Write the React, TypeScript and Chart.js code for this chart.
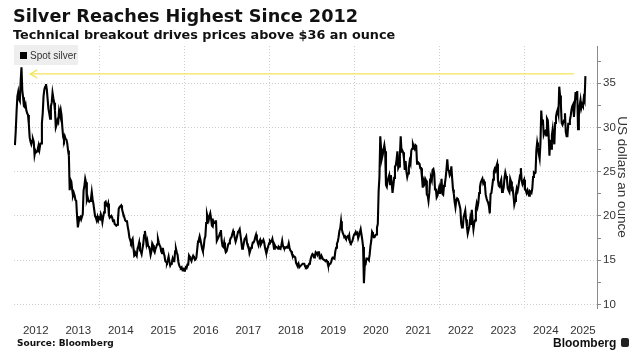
import React, { useEffect, useRef } from 'react';
import { Chart, registerables } from 'chart.js';

Chart.register(...registerables);

// ---- text ----
const TITLE = 'Silver Reaches Highest Since 2012';
const SUBTITLE = 'Technical breakout drives prices above $36 an ounce';
const SERIES_NAME = 'Spot silver';
const Y_TITLE = 'US dollars an ounce';
const SOURCE = 'Source: Bloomberg';
const BRAND = 'Bloomberg';

// ---- axes ----
const YEAR_LABELS = [2012, 2013, 2014, 2015, 2016, 2017, 2018, 2019, 2020, 2021, 2022, 2023, 2024, 2025];
const GRID_YEARS = [2014, 2016, 2018, 2020, 2022, 2024];
const Y_TICKS = [10, 12.5, 15, 17.5, 20, 22.5, 25, 27.5, 30, 32.5, 35, 37.5];
const X_MIN = 2011.988;
const X_MAX = 2025.706;
const Y_MIN = 9.6;
const Y_MAX = 39.2;

// ---- annotation (yellow arrow at the new high) ----
const ARROW_LEVEL = 36.05;
const ARROW_FROM = 2012.37;
const ARROW_TO = 2025.165;

// ---- spot silver, weekly closes (USD/oz) ----
const s2012 = [28.0, 29.6, 31.8, 33.5, 34.0, 33.2, 33.0, 35.2, 36.8, 34.2, 33.4, 32.4, 32.3, 32.6, 31.9, 31.6, 31.4, 30.4, 28.9, 28.4, 28.1, 28.5, 28.7, 28.4, 26.9, 27.4, 27.2, 27.3, 27.6, 28.0, 27.5, 28.1, 28.2, 30.5, 31.6, 33.5, 34.3, 34.6, 34.9, 34.3, 33.2, 32.1, 31.6, 31.0, 32.4, 32.8, 33.9, 33.3, 32.8, 31.9, 30.0, 30.3];
const s2013 = [30.8, 30.6, 31.9, 31.5, 32.0, 31.4, 30.0, 28.9, 28.6, 29.0, 28.7, 28.6, 28.2, 27.4, 26.8, 22.9, 24.1, 23.9, 23.0, 22.3, 22.6, 22.3, 21.8, 21.7, 20.0, 18.7, 19.3, 19.8, 19.9, 19.6, 19.6, 20.2, 22.9, 23.4, 24.2, 23.8, 21.8, 22.1, 21.7, 21.6, 21.7, 21.9, 22.7, 21.9, 21.4, 20.7, 20.0, 19.8, 19.5, 19.9, 19.5, 19.8];
const s2014 = [19.7, 20.2, 19.9, 19.3, 19.9, 20.4, 21.5, 21.6, 21.2, 21.1, 21.4, 20.1, 19.8, 19.9, 20.0, 19.8, 19.4, 19.6, 19.1, 19.0, 18.9, 19.0, 19.5, 20.8, 21.0, 21.1, 21.2, 20.8, 20.4, 20.1, 19.8, 19.5, 19.4, 19.5, 18.8, 18.3, 17.6, 17.3, 17.0, 17.2, 17.4, 16.4, 15.5, 15.6, 15.7, 15.5, 16.3, 16.6, 17.0, 16.1, 16.0, 15.7];
const s2015 = [16.3, 16.8, 17.8, 18.3, 17.6, 16.8, 17.2, 16.6, 16.5, 16.2, 15.6, 16.0, 16.9, 16.7, 16.1, 15.9, 16.3, 16.5, 16.8, 17.4, 17.0, 16.7, 16.5, 16.0, 15.8, 16.4, 15.8, 15.5, 14.9, 14.8, 14.7, 15.0, 15.4, 14.8, 14.4, 14.6, 14.8, 15.2, 14.9, 14.9, 16.0, 16.3, 15.9, 15.6, 14.8, 14.4, 14.2, 14.1, 14.2, 13.9, 14.0, 13.8];
const s2016 = [14.0, 14.2, 14.1, 14.5, 14.5, 15.5, 15.3, 15.1, 14.9, 15.3, 15.5, 15.3, 15.2, 15.1, 15.3, 16.2, 17.1, 17.3, 17.7, 17.3, 16.8, 16.3, 16.0, 16.5, 17.4, 17.7, 19.2, 20.2, 19.8, 19.5, 20.0, 20.3, 19.7, 18.9, 18.8, 19.4, 19.2, 19.2, 19.5, 17.2, 17.4, 17.6, 17.8, 18.1, 18.4, 17.2, 16.6, 16.5, 17.0, 16.3, 15.9, 16.0];
const s2017 = [16.4, 16.8, 16.9, 17.2, 17.5, 17.6, 18.0, 18.3, 18.0, 17.5, 17.1, 17.4, 17.8, 18.2, 18.3, 18.5, 17.8, 17.1, 16.3, 16.4, 16.9, 17.4, 17.5, 17.7, 16.9, 16.6, 16.5, 15.8, 16.1, 16.4, 16.6, 17.0, 17.0, 17.2, 17.6, 17.9, 17.4, 17.0, 16.7, 17.1, 17.3, 16.8, 17.0, 17.1, 17.3, 17.0, 16.4, 16.0, 15.9, 16.3, 16.6, 16.9];
const s2018 = [17.2, 17.1, 17.1, 17.4, 16.9, 16.3, 16.7, 16.5, 16.5, 16.4, 16.3, 16.5, 16.4, 16.3, 16.7, 17.2, 16.6, 16.4, 16.3, 16.4, 16.5, 16.4, 16.5, 16.9, 16.4, 16.1, 16.0, 15.7, 15.6, 15.4, 15.4, 15.3, 14.7, 14.5, 14.4, 14.6, 14.2, 14.3, 14.3, 14.5, 14.6, 14.6, 14.6, 14.3, 14.2, 14.3, 14.2, 14.4, 14.6, 14.7, 15.2, 15.5];
const s2019 = [15.7, 15.6, 15.3, 15.5, 15.9, 15.8, 15.6, 15.9, 16.0, 15.2, 15.2, 15.5, 15.3, 15.1, 15.1, 15.0, 14.9, 15.0, 14.9, 14.5, 14.4, 14.6, 14.6, 14.8, 15.2, 15.3, 15.3, 15.2, 16.0, 16.4, 16.9, 17.1, 17.6, 18.3, 18.6, 19.4, 18.5, 18.1, 17.9, 17.6, 17.7, 17.5, 17.6, 17.7, 17.5, 17.8, 17.0, 16.9, 17.0, 17.2, 17.6, 17.9];
const s2020 = [18.0, 18.2, 18.0, 18.1, 17.5, 17.8, 17.8, 18.5, 17.9, 17.3, 16.5, 12.4, 14.4, 14.5, 15.2, 15.2, 15.1, 15.0, 15.6, 16.6, 17.2, 18.2, 18.0, 17.6, 17.6, 17.8, 17.9, 18.7, 19.1, 22.8, 24.4, 29.0, 27.6, 26.5, 26.9, 27.5, 28.0, 27.3, 23.5, 23.3, 24.0, 24.3, 24.6, 23.6, 24.6, 23.7, 22.6, 23.4, 24.3, 25.6, 25.7, 26.4];
const s2021 = [27.3, 25.4, 25.6, 26.8, 29.0, 27.3, 27.4, 27.2, 26.5, 25.2, 26.2, 25.0, 24.4, 24.8, 25.5, 26.2, 25.9, 27.4, 27.6, 28.1, 27.8, 27.6, 28.0, 27.9, 25.9, 26.1, 26.0, 25.9, 25.4, 25.4, 24.4, 23.2, 24.0, 23.7, 24.2, 24.0, 22.4, 22.3, 21.7, 22.6, 24.1, 24.3, 24.0, 25.2, 25.3, 24.8, 23.0, 23.1, 22.1, 22.3, 22.8, 23.2];
const s2022 = [22.5, 23.1, 24.2, 22.5, 22.4, 23.4, 23.6, 24.3, 25.2, 26.4, 25.2, 25.1, 24.6, 24.8, 25.6, 24.2, 23.0, 22.5, 21.6, 21.0, 21.8, 22.0, 21.9, 21.6, 21.2, 20.8, 19.2, 18.7, 18.7, 19.9, 20.2, 20.6, 19.6, 18.8, 18.0, 18.4, 18.8, 19.6, 19.0, 20.7, 19.4, 18.5, 19.2, 19.5, 20.8, 21.4, 21.0, 21.5, 22.6, 23.3, 23.8, 24.0];
const s2023 = [24.2, 23.7, 23.9, 23.6, 22.4, 22.0, 21.7, 21.5, 21.1, 20.3, 22.5, 22.6, 23.3, 24.1, 25.0, 25.3, 25.1, 25.6, 25.9, 24.0, 23.4, 23.3, 23.8, 24.1, 22.7, 22.8, 23.2, 24.3, 24.9, 24.5, 24.1, 23.1, 22.9, 22.7, 24.2, 23.9, 23.0, 23.1, 22.3, 21.3, 21.7, 22.5, 23.1, 22.8, 23.3, 24.0, 24.6, 25.4, 24.0, 23.6, 23.9, 24.1];
const s2024 = [23.0, 22.9, 22.6, 22.9, 22.6, 22.3, 22.8, 22.7, 22.6, 23.1, 24.4, 24.9, 24.8, 24.9, 27.4, 28.3, 27.7, 27.0, 26.5, 28.2, 31.9, 30.4, 30.9, 29.2, 29.5, 29.6, 29.1, 31.0, 30.8, 29.2, 26.8, 28.6, 27.6, 29.1, 29.8, 28.8, 28.1, 30.5, 31.2, 31.7, 32.0, 31.5, 34.6, 33.6, 32.6, 30.5, 30.3, 30.6, 30.8, 31.6, 29.5, 29.0];
const s2025 = [29.0, 30.4, 30.4, 30.8, 31.3, 32.0, 32.4, 32.6, 31.2, 32.6, 34.0, 33.1, 34.1, 29.8, 31.3, 32.5, 33.1, 32.2, 32.6, 32.4, 33.3, 33.0, 35.8];

const SERIES_BY_YEAR: [number, number[]][] = [
  [2012, s2012], [2013, s2013], [2014, s2014], [2015, s2015], [2016, s2016],
  [2017, s2017], [2018, s2018], [2019, s2019], [2020, s2020], [2021, s2021],
  [2022, s2022], [2023, s2023], [2024, s2024], [2025, s2025],
];

// ---- styles ----
const LINE_COLOR = '#000000';
const ARROW_COLOR = '#f3e55a';
const GRID_COLOR = '#cfcfcf';
const AXIS_COLOR = '#8a8a8a';
const TEXT_COLOR = '#333333';
const TICK_FONT = { family: '"Liberation Sans", Arial, sans-serif', size: 11.5 };

const arrowHeadPlugin = {
  id: 'arrowHead',
  afterDatasetsDraw(chart: any) {
    const { ctx, scales } = chart;
    const px = scales.x.getPixelForValue(ARROW_FROM);
    const py = scales.y.getPixelForValue(ARROW_LEVEL);
    ctx.save();
    ctx.strokeStyle = ARROW_COLOR;
    ctx.lineWidth = 1.2;
    ctx.beginPath();
    ctx.moveTo(px + 7, py - 4);
    ctx.lineTo(px, py);
    ctx.lineTo(px + 7, py + 4);
    ctx.stroke();
    ctx.restore();
  },
};

export default function App() {
  const ref = useRef<HTMLCanvasElement>(null);

  useEffect(() => {
    const points = SERIES_BY_YEAR.flatMap(([yr, vals]) =>
      vals.map((v, i) => ({ x: yr + i / 52 + 0.01, y: v }))
    );
    const arrowPts = [
      { x: ARROW_FROM, y: ARROW_LEVEL },
      { x: ARROW_TO, y: ARROW_LEVEL },
    ];
    const chart = new Chart(ref.current as HTMLCanvasElement, {
      type: 'line',
      data: {
        datasets: [
          {
            label: SERIES_NAME,
            data: points,
            borderColor: LINE_COLOR,
            borderWidth: 2.1,
            pointRadius: 0,
            tension: 0,
          },
          {
            label: 'arrow',
            data: arrowPts,
            borderColor: ARROW_COLOR,
            borderWidth: 1.2,
            pointRadius: 0,
          },
        ],
      },
      options: {
        animation: false,
        responsive: false,
        maintainAspectRatio: false,
        layout: { padding: { left: 14, top: 46, right: 0, bottom: 0 } },
        plugins: { legend: { display: false }, tooltip: { enabled: false } },
        scales: {
          x: {
            type: 'linear',
            position: 'bottom',
            min: X_MIN,
            max: X_MAX,
            grid: { display: false, drawTicks: false },
            border: { display: false },
            ticks: {
              autoSkip: false,
              maxRotation: 0,
              padding: 16,
              color: TEXT_COLOR,
              font: TICK_FONT,
              callback: (v: any) => String(Math.floor(Number(v))),
            },
            afterBuildTicks: (s: any) => {
              s.ticks = YEAR_LABELS.map((y) => ({ value: Math.min(y + 0.5, X_MAX - 0.33) }));
            },
            afterFit: (s: any) => {
              s.height = 54;
            },
          },
          xg: {
            type: 'linear',
            position: 'bottom',
            min: X_MIN,
            max: X_MAX,
            grid: { color: GRID_COLOR, lineWidth: 1, drawTicks: false },
            border: { display: false, dash: [1, 2] },
            ticks: { display: false },
            afterBuildTicks: (s: any) => {
              s.ticks = GRID_YEARS.map((y) => ({ value: y }));
            },
            afterFit: (s: any) => {
              s.height = 0;
            },
          },
          y: {
            type: 'linear',
            position: 'right',
            min: Y_MIN,
            max: Y_MAX,
            grid: {
              color: (c: any) => (c.tick && c.tick.value % 5 === 0 ? GRID_COLOR : 'rgba(0,0,0,0)'),
              lineWidth: 1,
              drawTicks: true,
              tickLength: 4,
              tickColor: AXIS_COLOR,
              tickBorderDash: [],
            },
            border: { display: true, color: AXIS_COLOR, width: 1, dash: [1, 2] },
            ticks: {
              padding: 2,
              color: TEXT_COLOR,
              font: TICK_FONT,
              autoSkip: false,
              callback: (v: any) => (Number(v) % 5 === 0 ? String(v) : ''),
            },
            title: {
              display: true,
              text: Y_TITLE,
              color: TEXT_COLOR,
              font: { family: '"Liberation Sans", Arial, sans-serif', size: 13.5 },
              padding: { top: 12, bottom: 0 },
            },
            afterBuildTicks: (s: any) => {
              s.ticks = Y_TICKS.map((v) => ({ value: v }));
            },
            afterFit: (s: any) => {
              s.width = 45;
            },
          },
        },
      } as any,
      plugins: [arrowHeadPlugin],
    });
    return () => chart.destroy();
  }, []);

  return (
    <div style={{ position: 'absolute', left: 0, top: 0, width: 642, height: 362, background: '#fff', overflow: 'hidden' }}>
      <canvas ref={ref} width={642} height={362} style={{ position: 'absolute', left: 0, top: 0, width: 642, height: 362 }} />
      <div style={{ position: 'absolute', left: 13, top: 7.7, font: 'bold 17.7px "DejaVu Sans", sans-serif', lineHeight: 1, color: '#111', whiteSpace: 'nowrap' }}>{TITLE}</div>
      <div style={{ position: 'absolute', left: 13, top: 28.7, font: 'bold 12.8px "DejaVu Sans", sans-serif', lineHeight: 1, color: '#111', whiteSpace: 'nowrap' }}>{SUBTITLE}</div>
      <div style={{ position: 'absolute', left: 14, top: 45, width: 64, height: 20, background: '#eeeeee', display: 'flex', alignItems: 'center', boxSizing: 'border-box', paddingLeft: 6 }}>
        <span style={{ display: 'inline-block', width: 7, height: 7, background: '#000', marginRight: 3 }} />
        <span style={{ font: '10px "Liberation Sans", Arial, sans-serif', color: TEXT_COLOR, whiteSpace: 'nowrap' }}>{SERIES_NAME}</span>
      </div>
      <div style={{ position: 'absolute', left: 17, top: 339, font: 'bold 9px "DejaVu Sans", sans-serif', lineHeight: 1, color: '#111', whiteSpace: 'pre' }}>{SOURCE}</div>
      <div style={{ position: 'absolute', left: 553, top: 336.5, font: 'bold 12px "Liberation Sans", Arial, sans-serif', lineHeight: 1, color: '#111', whiteSpace: 'nowrap', display: 'flex', alignItems: 'center' }}>
        <span>{BRAND}</span>
        <span style={{ display: 'inline-block', width: 8, height: 9, background: '#222', borderRadius: 2, marginLeft: 5 }} />
      </div>
    </div>
  );
}
